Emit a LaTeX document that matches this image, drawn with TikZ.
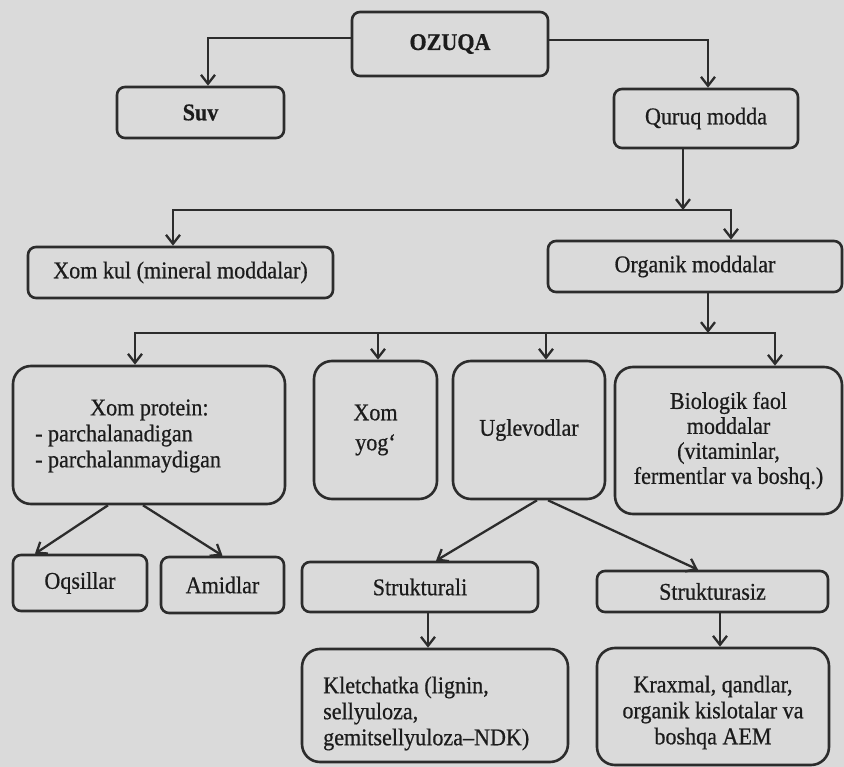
\documentclass[tikz,border=0pt]{standalone}
\usepackage{fontspec}
\setmainfont{Liberation Serif}[FakeBold=0.6,FakeStretch=0.92]
\usetikzlibrary{arrows.meta}
\definecolor{bg}{RGB}{218,218,218}
\definecolor{ink}{RGB}{44,44,44}
\definecolor{txt}{RGB}{28,28,28}
\begin{document}
\begin{tikzpicture}[x=1pt,y=-1pt,
  box/.style={draw=ink, line width=2.6pt, rounded corners=8pt, inner sep=0pt, text=txt,
    font=\fontsize{24pt}{26pt}\selectfont, align=center},
  tall/.style={box, rounded corners=18pt},
  lbl/.style={text=txt, font=\fontsize{24pt}{26pt}\selectfont, inner sep=0pt},
  arr/.style={draw=ink, line width=2.3pt, -{Straight Barb[length=9pt,width=14pt]}}]
\fill[bg] (0,0) rectangle (844,767);
\useasboundingbox (0,0) rectangle (844,767);

% boxes
\node[box, minimum width=196pt, minimum height=64pt] (ozuqa) at (450,44) {\bfseries OZUQA};
\node[box, minimum width=167pt, minimum height=51pt] (suv) at (200.5,112.5) {\bfseries Suv};
\node[box, minimum width=184pt, minimum height=59pt] (quruq) at (706,118.5) {Quruq modda};
\node[box, minimum width=305pt, minimum height=51pt] (xomkul) at (180.5,272.5) {Xom kul (mineral moddalar)};
\node[box, minimum width=294pt, minimum height=51pt] (organik) at (695,266.5) {Organik moddalar};

\node[tall, minimum width=272pt, minimum height=138pt] (protein) at (149,435) {};
\node[lbl, align=left, anchor=west] (protxt) at (35,436)
  {\hspace*{55pt}Xom protein:\\- parchalanadigan\\- parchalanmaydigan};
\node[tall, minimum width=123pt, minimum height=138pt,
  font=\fontsize{24pt}{30pt}\selectfont] (yog) at (375.5,430) {Xom\\yog‘};
\node[tall, minimum width=152pt, minimum height=138pt] (uglev) at (529,430) {Uglevodlar};
\node[tall, minimum width=227pt, minimum height=147pt,
  font=\fontsize{24pt}{25pt}\selectfont] (bio) at (728.5,440.5)
  {Biologik faol\\moddalar\\(vitaminlar,\\fermentlar va boshq.)};

\node[box, minimum width=134pt, minimum height=56pt] (oqsil) at (80,583) {Oqsillar};
\node[box, minimum width=123pt, minimum height=56pt] (amid) at (222.5,585) {Amidlar};
\node[box, minimum width=236pt, minimum height=50pt] (strukturali) at (420,587) {Strukturali};
\node[box, minimum width=231pt, minimum height=41pt] (strukturasiz) at (712.5,591.5) {Strukturasiz};

\node[tall, minimum width=266pt, minimum height=113pt] (klet) at (435,705.5) {};
\node[lbl, align=left, anchor=west] (klettxt) at (323,713.5)
  {Kletchatka (lignin,\\sellyuloza,\\gemitsellyuloza–NDK)};
\node[tall, minimum width=232pt, minimum height=117pt] (kraxmal) at (713,706.5) {};
\node[lbl, align=center] (krtxt) at (713,712.5)
  {Kraxmal, qandlar,\\organik kislotalar va\\boshqa AEM};

% connectors
\draw[arr] ([yshift=6pt]ozuqa.west) -| ([xshift=7.5pt]suv.north);
\draw[arr] ([yshift=4pt]ozuqa.east) -| ([xshift=2pt]quruq.north);
\coordinate (j1) at (683,210);
\draw[arr] ([xshift=-23pt]quruq.south) -- (j1);
\draw[arr] (j1) -| ([xshift=-7.5pt]xomkul.north);
\draw[arr] (j1) -| ([xshift=36pt]organik.north);
\coordinate (j2) at (708,333);
\draw[arr] ([xshift=13pt]organik.south) -- (j2);
\draw[arr] (j2) -| ([xshift=-14pt]protein.north);
\draw[arr] (j2) -| ([xshift=2.5pt]yog.north);
\draw[arr] (j2) -| ([xshift=17pt]uglev.north);
\draw[arr] (j2) -| ([xshift=46.5pt]bio.north);
\draw[arr] ([xshift=-41pt]protein.south) -- ([xshift=-45pt]oqsil.north);
\draw[arr] ([xshift=-6pt]protein.south) -- (amid.north);
\draw[arr] ([xshift=8pt]uglev.south) -- ([xshift=16pt]strukturali.north);
\draw[arr] ([xshift=19pt]uglev.south) -- ([xshift=-14.5pt]strukturasiz.north);
\draw[arr] ([xshift=8pt]strukturali.south) -- ([xshift=8pt]strukturali.south |- klet.north);
\draw[arr] ([xshift=7.5pt]strukturasiz.south) -- ([xshift=7.5pt]strukturasiz.south |- kraxmal.north);
\end{tikzpicture}
\end{document}
